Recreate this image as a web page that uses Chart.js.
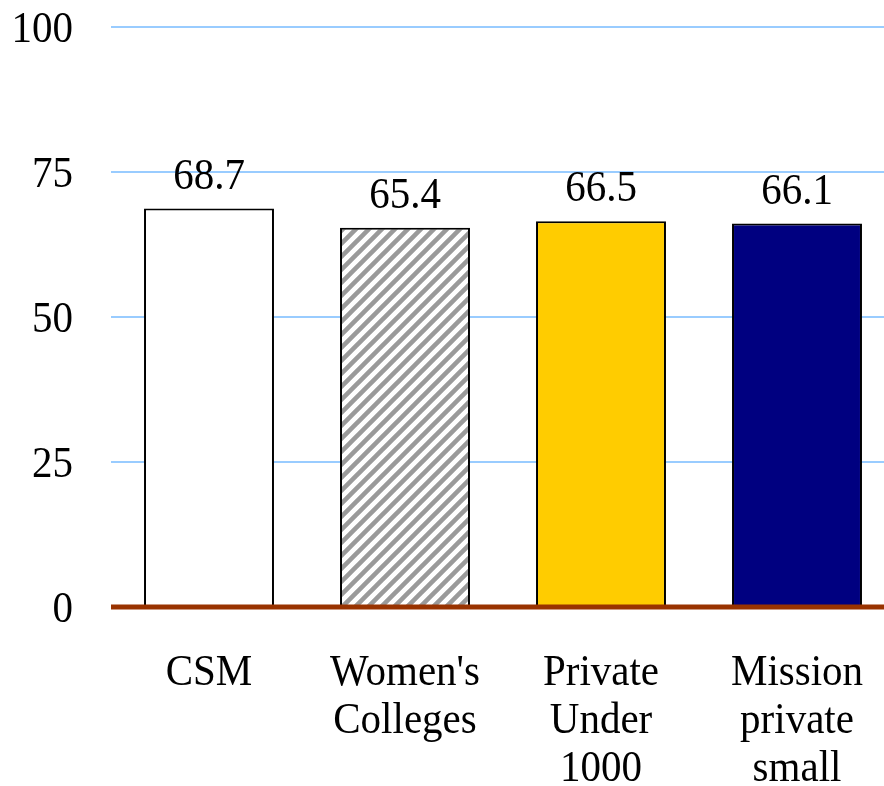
<!DOCTYPE html>
<html>
<head>
<meta charset="utf-8">
<script src="https://cdn.jsdelivr.net/npm/chart.js@4"></script>
<style>
  html, body { margin: 0; padding: 0; background: #fff; overflow: hidden; }
  #wrap { width: 900px; height: 786px; }
</style>
</head>
<body>
<div id="wrap"><canvas id="chart"></canvas></div>
<script>
const categories = [['CSM'], ["Women's", 'Colleges'], ['Private', 'Under', '1000'], ['Mission', 'private', 'small']];
const scores = [68.7, 65.4, 66.5, 66.1];
const yTicks = [0, 25, 50, 75, 100];

const font = 'Liberation Serif';
const fontPx = 41;
const stretch = 1.1;   // text is a little taller than it is wide

// grey diagonal stripes for the second bar
function stripes() {
    const c = document.createElement('canvas');
    const s = 13;
    c.width = s; c.height = s;
    const g = c.getContext('2d');
    g.fillStyle = '#fff';
    g.fillRect(0, 0, s, s);
    g.strokeStyle = '#9a9a9a';
    g.lineWidth = 4.5;
    g.beginPath();
    for (let k = -1; k <= 1; k++) {
        g.moveTo(k * s - 2, s + 2);
        g.lineTo(k * s + s + 2, -2);
    }
    g.stroke();
    return g.createPattern(c, 'repeat');
}

const fills = ['#ffffff', stripes(), '#ffcc00', '#000080'];

function text(ctx, str, x, y, align) {
    ctx.save();
    ctx.translate(x, y);
    ctx.scale(1, stretch);
    ctx.textAlign = align;
    ctx.textBaseline = 'alphabetic';
    ctx.fillText(str, 0, 0);
    ctx.restore();
}

// axis labels, values above bars and the brown baseline
const overlay = {
    id: 'overlay',
    afterDatasetsDraw(chart) {
        const ctx = chart.ctx;
        const x = chart.scales.x;
        const y = chart.scales.y;
        const area = chart.chartArea;
        ctx.save();
        ctx.strokeStyle = '#993300';
        ctx.lineWidth = 5;
        ctx.beginPath();
        ctx.moveTo(area.left, y.getPixelForValue(0));
        ctx.lineTo(area.right, y.getPixelForValue(0));
        ctx.stroke();

        ctx.fillStyle = '#000';
        ctx.font = `${fontPx}px "${font}"`;

        yTicks.forEach(v => text(ctx, String(v), area.left - 38, y.getPixelForValue(v) + 15, 'right'));

        categories.forEach((lines, i) => {
            const cx = x.getPixelForTick(i);
            lines.forEach((ln, j) => text(ctx, ln, cx, area.bottom + 78 + j * 48, 'center'));
        });

        chart.getDatasetMeta(0).data.forEach((bar, i) => {
            text(ctx, scores[i].toFixed(1), bar.x, bar.y - 20, 'center');
        });
        ctx.restore();
    }
};

new Chart(document.getElementById('chart'), {
    type: 'bar',
    data: {
        labels: categories,
        datasets: [{
            data: scores,
            backgroundColor: fills,
            borderColor: '#000',
            borderWidth: 2,
            barPercentage: 0.663,
            categoryPercentage: 1.0
        }]
    },
    options: {
        responsive: true,
        maintainAspectRatio: false,
        animation: false,
        layout: { padding: { top: 27, right: 5, left: 0, bottom: 0 } },
        plugins: {
            legend: { display: false },
            tooltip: { enabled: false }
        },
        scales: {
            x: {
                grid: { display: false },
                border: { display: false },
                ticks: { display: false },
                afterFit: (axis) => { axis.height = 179; }
            },
            y: {
                min: 0,
                max: 100,
                afterBuildTicks: (axis) => { axis.ticks = yTicks.map(v => ({ value: v })); },
                grid: {
                    color: (c) => c.tick && c.tick.value === 0 ? 'rgba(0,0,0,0)' : '#99ccff',
                    lineWidth: 2,
                    drawTicks: false
                },
                border: { display: false },
                ticks: { display: false },
                afterFit: (axis) => { axis.width = 111; }
            }
        }
    },
    plugins: [overlay]
});
</script>
</body>
</html>
